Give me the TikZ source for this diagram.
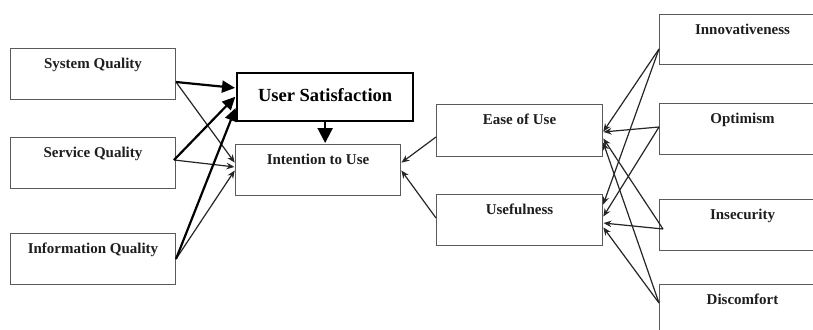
\documentclass[tikz,border=0pt]{standalone}
\usepackage{fontspec}
\setmainfont{Liberation Serif}
\usetikzlibrary{arrows.meta}
\definecolor{boxline}{HTML}{5A5A5A}
\definecolor{thinline}{HTML}{262626}
\definecolor{labeltext}{HTML}{1E1E1E}
\tikzset{
  box/.style={draw=boxline, line width=1pt, fill=white, anchor=north west,
    inner sep=0pt, minimum width=165pt, text height=20pt, text depth=31pt,
    font=\fontsize{15}{18}\selectfont\bfseries, text=labeltext},
  bigbox/.style={draw=black, line width=2.3pt, fill=white, anchor=north west,
    inner sep=0pt, minimum width=176pt, text height=28.5pt, text depth=19.5pt,
    font=\fontsize{18.5}{22}\selectfont\bfseries, text=black},
  link/.style={draw=thinline, line width=1.2pt, -{Stealth[length=8pt,width=6.5pt]}, shorten >=0.5pt},
  strong/.style={draw=black, line width=2.2pt, -{Triangle[length=13pt,width=12pt]}, shorten >=1pt},
}
\begin{document}
\begin{tikzpicture}[x=1pt,y=-1pt]
\useasboundingbox (0,0) rectangle (813,329);
\clip (0,0) rectangle (813,329);

% quality constructs
\node[box] (sysq)  at (10,48)  {System Quality};
\node[box] (servq) at (10,137) {Service Quality};
\node[box] (infq)  at (10,233) {Information Quality};

% outcome constructs
\node[bigbox] (usat) at (236,72) {User Satisfaction};
\node[box] (itu)  at (235,144) {Intention to Use};

% technology acceptance constructs
\node[box, minimum width=166pt, text depth=32pt] (eou)  at (436,104) {Ease of Use};
\node[box, minimum width=166pt] (usef) at (436,194) {Usefulness};

% technology readiness constructs
\node[box, minimum width=166pt, text depth=30pt] (innov) at (659,14)  {Innovativeness};
\node[box, minimum width=166pt] (optim) at (659,103) {Optimism};
\node[box, minimum width=166pt] (insec) at (659,199) {Insecurity};
\node[box, minimum width=166pt] (disc)  at (659,284) {Discomfort};

% quality -> intention to use
\draw[link] ([yshift=-34pt]sysq.north east) -- ([yshift=-19pt]itu.north west);
\draw[link] ([xshift=-2pt,yshift=-23pt]servq.north east) -- ([yshift=-23pt]itu.north west);
\draw[link] ([yshift=-26pt]infq.north east) -- ([yshift=-26pt]itu.north west);

% quality -> user satisfaction
\draw[strong] ([yshift=-34pt]sysq.north east) -- ([yshift=-16pt]usat.north west);
\draw[strong] ([xshift=-2pt,yshift=-23pt]servq.north east) -- ([yshift=-24pt]usat.north west);
\draw[strong] ([yshift=-26pt]infq.north east) -- ([yshift=-35pt]usat.north west);

% user satisfaction -> intention to use
\draw[strong, -{Triangle[length=15pt,width=15pt]}] (usat.south) -- (usat.south |- itu.north);

% acceptance -> intention to use
\draw[link] ([yshift=-33pt]eou.north west) -- ([yshift=-19pt]itu.north east);
\draw[link] ([yshift=-24pt]usef.north west) -- ([yshift=-26pt]itu.north east);

% readiness -> ease of use
\draw[link] ([yshift=-35pt]innov.north west) -- ([yshift=-28pt]eou.north east);
\draw[link] ([yshift=-24pt]optim.north west) -- ([yshift=-28pt]eou.north east);
\draw[link] ([xshift=4pt,yshift=-30pt]insec.north west) -- ([yshift=-34pt]eou.north east);
\draw[link] ([yshift=-19pt]disc.north west) -- ([yshift=-38pt]eou.north east);

% readiness -> usefulness
\draw[link] ([yshift=-35pt]innov.north west) -- ([yshift=-11pt]usef.north east);
\draw[link] ([yshift=-24pt]optim.north west) -- ([yshift=-23pt]usef.north east);
\draw[link] ([xshift=4pt,yshift=-30pt]insec.north west) -- ([yshift=-29pt]usef.north east);
\draw[link] ([yshift=-19pt]disc.north west) -- ([yshift=-33pt]usef.north east);
\end{tikzpicture}
\end{document}
